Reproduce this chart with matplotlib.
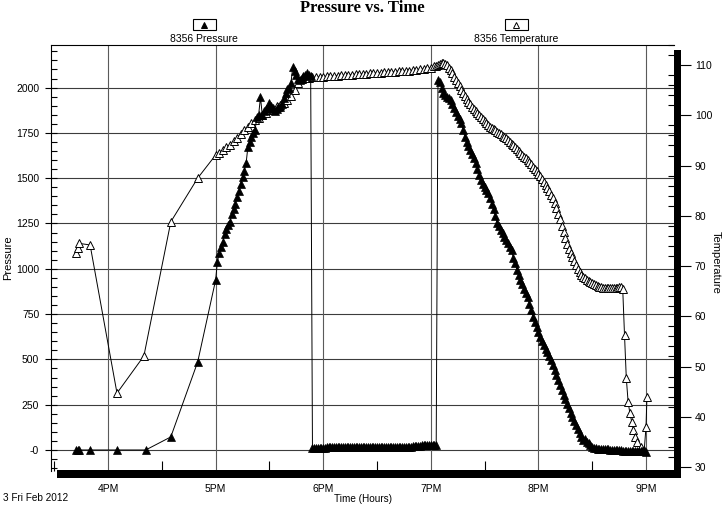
import matplotlib
matplotlib.use("Agg")
import matplotlib.pyplot as plt
from matplotlib.patches import Rectangle
from matplotlib.lines import Line2D
from matplotlib.ticker import MultipleLocator, FixedLocator

# ---------------- data ----------------
# pressure: (time, value) pairs, grouped by stretch of the record
p_early_time = ["15:42", "15:43", "15:44", "15:50", "16:05", "16:21", "16:35", "16:50", "17:00"]
p_early_val = [0, 0, 0, 0, 0, 0, 72, 486, 938]

p_ramp_time = ["17:01", "17:02", "17:03", "17:04", "17:05", "17:06", "17:07", "17:08", "17:09", "17:10",
               "17:11", "17:12", "17:13", "17:14", "17:15", "17:16", "17:17", "17:18", "17:19", "17:20",
               "17:21", "17:22", "17:23", "17:24", "17:25", "17:26", "17:27", "17:28", "17:29", "17:30",
               "17:31", "17:32", "17:33", "17:34", "17:35", "17:36", "17:37", "17:38", "17:39", "17:40",
               "17:41", "17:42", "17:43", "17:44", "17:45", "17:46", "17:47", "17:48", "17:49", "17:50",
               "17:51", "17:52", "17:53"]
p_ramp_val = [1040, 1085, 1120, 1150, 1190, 1220, 1240, 1260, 1300, 1330,
              1360, 1396, 1430, 1470, 1507, 1540, 1584, 1672, 1700, 1727,
              1750, 1766, 1838, 1850, 1948, 1850, 1870, 1880, 1890, 1915,
              1900, 1880, 1870, 1880, 1893, 1893, 1910, 1940, 1970, 1990,
              2000, 2025, 2114, 2090, 2070, 2050, 2042, 2055, 2065, 2072,
              2080, 2070, 2065]

p_low_time = ["17:54", "17:55", "17:56", "17:57", "17:58", "17:59", "18:00", "18:01", "18:02", "18:03",
              "18:04", "18:05", "18:06", "18:07", "18:08", "18:09", "18:10", "18:11", "18:12", "18:13",
              "18:14", "18:15", "18:16", "18:17", "18:18", "18:19", "18:20", "18:21", "18:22", "18:23",
              "18:24", "18:25", "18:26", "18:27", "18:28", "18:29", "18:30", "18:31", "18:32", "18:33",
              "18:34", "18:35", "18:36", "18:37", "18:38", "18:39", "18:40", "18:41", "18:42", "18:43",
              "18:44", "18:45", "18:46", "18:47", "18:48", "18:49", "18:50", "18:51", "18:52", "18:53",
              "18:54", "18:55", "18:56", "18:57", "18:58", "18:59", "19:00", "19:01", "19:02", "19:03"]
p_low_val = [12, 12, 13, 13, 13, 13, 13, 13, 14, 14,
             14, 14, 14, 14, 14, 14, 15, 15, 15, 15,
             15, 15, 15, 15, 15, 15, 16, 16, 16, 16,
             16, 16, 16, 16, 16, 16, 17, 17, 17, 17,
             17, 17, 17, 17, 18, 18, 18, 18, 18, 18,
             18, 18, 19, 19, 19, 19, 20, 22, 24, 24,
             24, 25, 25, 25, 25, 26, 26, 27, 27, 28]

p_fall_time = ["19:04", "19:05", "19:06", "19:07", "19:08", "19:09", "19:10", "19:11", "19:12", "19:13",
               "19:14", "19:15", "19:16", "19:17", "19:18", "19:19", "19:20", "19:21", "19:22", "19:23",
               "19:24", "19:25", "19:26", "19:27", "19:28", "19:29", "19:30", "19:31", "19:32", "19:33",
               "19:34", "19:35", "19:36", "19:37", "19:38", "19:39", "19:40", "19:41", "19:42", "19:43",
               "19:44", "19:45", "19:46", "19:47", "19:48", "19:49", "19:50", "19:51", "19:52", "19:53",
               "19:54", "19:55", "19:56", "19:57", "19:58", "19:59", "20:00", "20:01", "20:02", "20:03",
               "20:04", "20:05", "20:06", "20:07", "20:08", "20:09", "20:10", "20:11", "20:12", "20:13",
               "20:14", "20:15", "20:16", "20:17", "20:18", "20:19", "20:20", "20:21", "20:22", "20:23",
               "20:24", "20:25", "20:26", "20:27", "20:28", "20:29", "20:30", "20:31", "20:32", "20:33",
               "20:34", "20:35", "20:36", "20:37", "20:38", "20:39", "20:40", "20:41", "20:42", "20:43",
               "20:44", "20:45", "20:46", "20:47", "20:48", "20:49", "20:50", "20:51", "20:52", "20:53",
               "20:54", "20:55", "20:56", "20:57", "20:58", "20:59", "21:00"]
p_fall_val = [2040, 2030, 2000, 1970, 1960, 1950, 1940, 1932, 1910, 1890,
              1866, 1845, 1825, 1805, 1765, 1727, 1700, 1678, 1656, 1633,
              1610, 1584, 1550, 1520, 1490, 1470, 1450, 1434, 1418, 1390,
              1360, 1330, 1290, 1253, 1234, 1215, 1195, 1175, 1157, 1140,
              1122, 1104, 1060, 1030, 995, 965, 938, 914, 890, 867,
              844, 805, 770, 734, 707, 680, 652, 624, 602, 580,
              560, 540, 518, 497, 468, 440, 412, 385, 358, 331,
              305, 280, 255, 230, 204, 182, 160, 137, 115, 93,
              72, 55, 60, 45, 39, 25, 18, 11, 9, 8,
              6, 5, 5, 5, 4, 3, 2, 2, 1, 0,
              -1, -2, -2, -3, -3, -4, -4, -5, -5, -6,
              -6, -6, -7, -7, -8, -8, -10]

# temperature
t_early_time = ["15:42", "15:43", "15:44", "15:50", "16:05", "16:20", "16:35", "16:50", "17:00"]
t_early_val = [72.5, 73.5, 74.5, 74.2, 44.7, 52.1, 78.8, 87.5, 92.1]

t_rise_time = ["17:02", "17:04", "17:06", "17:08", "17:10", "17:12", "17:14", "17:16", "17:18", "17:20",
               "17:22", "17:24", "17:26", "17:28", "17:30", "17:32", "17:34", "17:36", "17:38", "17:40",
               "17:42", "17:44", "17:46", "17:48"]
t_rise_val = [92.6, 93.1, 93.6, 94.1, 94.8, 95.5, 96.3, 97.0, 97.7, 98.4,
              99.0, 99.5, 100.0, 100.5, 101.0, 101.4, 101.8, 102.1, 102.4, 103.0,
              103.8, 105.0, 106.4, 107.3]

t_flat_time = ["17:50", "17:52", "17:54", "17:56", "17:58", "18:00", "18:02", "18:04", "18:06", "18:08",
               "18:10", "18:12", "18:14", "18:16", "18:18", "18:20", "18:22", "18:24", "18:26", "18:28",
               "18:30", "18:32", "18:34", "18:36", "18:38", "18:40", "18:42", "18:44", "18:46", "18:48",
               "18:50", "18:52", "18:54", "18:56", "18:58", "19:00", "19:02"]
t_flat_val = [107.5, 107.5, 107.6, 107.6, 107.7, 107.7, 107.8, 107.8, 107.9, 107.9,
              108.0, 108.0, 108.1, 108.1, 108.2, 108.2, 108.3, 108.3, 108.4, 108.4,
              108.5, 108.5, 108.6, 108.6, 108.7, 108.7, 108.8, 108.8, 108.9, 108.9,
              109.0, 109.1, 109.2, 109.3, 109.4, 109.5, 109.8]

t_fall_time = ["19:03", "19:04", "19:05", "19:06", "19:07", "19:08", "19:09", "19:10", "19:11", "19:12",
               "19:13", "19:14", "19:15", "19:16", "19:17", "19:18", "19:19", "19:20", "19:21", "19:22",
               "19:23", "19:24", "19:25", "19:26", "19:27", "19:28", "19:29", "19:30", "19:31", "19:32",
               "19:33", "19:34", "19:35", "19:36", "19:37", "19:38", "19:39", "19:40", "19:41", "19:42",
               "19:43", "19:44", "19:45", "19:46", "19:47", "19:48", "19:49", "19:50", "19:51", "19:52",
               "19:53", "19:54", "19:55", "19:56", "19:57", "19:58", "19:59", "20:00", "20:01", "20:02",
               "20:03", "20:04", "20:05", "20:06", "20:07", "20:08", "20:09", "20:10", "20:11", "20:12",
               "20:13", "20:14", "20:15", "20:16", "20:17", "20:18", "20:19", "20:20", "20:21", "20:22",
               "20:23", "20:24", "20:25", "20:26", "20:27", "20:28", "20:29", "20:30", "20:31", "20:32",
               "20:33", "20:34", "20:35", "20:36", "20:37", "20:38", "20:39", "20:40", "20:41", "20:42",
               "20:43", "20:44", "20:45", "20:46", "20:47"]
t_fall_val = [109.9, 110.0, 110.2, 110.4, 110.4, 110.3, 110.0, 109.5, 109.0, 108.4,
              107.7, 107.0, 106.4, 105.8, 105.1, 104.5, 103.8, 103.2, 102.7, 102.2,
              101.7, 101.2, 100.8, 100.4, 100.0, 99.6, 99.2, 98.8, 98.4, 98.0,
              97.7, 97.5, 97.2, 97.0, 96.7, 96.5, 96.2, 95.9, 95.6, 95.4,
              95.0, 94.7, 94.3, 94.0, 93.6, 93.3, 92.9, 92.6, 92.2, 91.8,
              91.5, 91.1, 90.7, 90.3, 89.8, 89.4, 88.9, 88.4, 87.9, 87.4,
              86.8, 86.2, 85.6, 84.9, 84.2, 83.5, 82.5, 81.5, 80.4, 79.3,
              78.0, 76.8, 75.5, 74.3, 73.4, 72.5, 71.7, 71.0, 70.2, 69.4,
              68.8, 68.3, 67.9, 67.6, 67.3, 67.1, 66.8, 66.6, 66.4, 66.2,
              66.0, 65.9, 65.8, 65.7, 65.6, 65.6, 65.6, 65.6, 65.6, 65.6,
              65.6, 65.7, 65.8, 65.9, 65.5]

t_end_time = ["20:48", "20:49", "20:50", "20:51", "20:52", "20:53", "20:54", "20:55", "20:57", "20:59",
              "21:00", "21:00.5"]
t_end_val = [56.3, 47.7, 43.0, 40.7, 39.0, 37.4, 36.0, 35.0, 34.0, 33.4,
             38.0, 43.9]

hour_ticks = [16, 17, 18, 19, 20, 21]
hour_labels = ["4PM", "5PM", "6PM", "7PM", "8PM", "9PM"]
p_ticks = [0, 250, 500, 750, 1000, 1250, 1500, 1750, 2000]
p_labels = ["-0", "250", "500", "750", "1000", "1250", "1500", "1750", "2000"]
t_ticks = [30, 40, 50, 60, 70, 80, 90, 100, 110]


def to_hours(s):
    h, m = s.split(":")
    return int(h) + float(m) / 60.0


p_time = p_early_time + p_ramp_time + p_low_time + p_fall_time
p_val = p_early_val + p_ramp_val + p_low_val + p_fall_val
t_time = t_early_time + t_rise_time + t_flat_time + t_fall_time + t_end_time
t_val = t_early_val + t_rise_val + t_flat_val + t_fall_val + t_end_val
p_x = [to_hours(s) for s in p_time]
t_x = [to_hours(s) for s in t_time]

# ---------------- figure ----------------
W, H = 728, 529
fig = plt.figure(figsize=(W / 100, H / 100), dpi=100)
fig.patch.set_facecolor("white")
FONT = "Liberation Sans"

L, R, T, B = 51, 674, 45, 471
pos = [L / W, 1 - B / H, (R - L) / W, (B - T) / H]

ax = fig.add_axes(pos)          # grid + pressure axis
axT = ax.twinx()                # temperature
axP = fig.add_axes(pos, sharex=ax, sharey=ax)  # pressure data on top
axP.patch.set_visible(False)
axP.axis("off")
ax.set_zorder(0)
axT.set_zorder(1)
axP.set_zorder(2)

ax.set_xlim(15.47, 21.26)
ax.set_ylim(-116, 2235)
axT.set_ylim(29.2, 114.0)

# grid
for v in p_ticks:
    ax.axhline(v, color="#3c3c3c", lw=0.8, zorder=0.5)
for h in hour_ticks:
    ax.axvline(h, color="#5a5a5a", lw=0.8, zorder=0.5)

# spines
for a in (ax, axT):
    a.spines["right"].set_visible(False)
    a.spines["bottom"].set_visible(False)
    a.spines["left"].set_visible(a is ax)
    a.spines["top"].set_visible(a is ax)
ax.spines["left"].set_linewidth(0.8)
ax.spines["top"].set_linewidth(0.8)

# left ticks
ax.yaxis.set_major_locator(FixedLocator(p_ticks))
ax.set_yticklabels(p_labels)
ax.yaxis.set_minor_locator(MultipleLocator(50))
ax.tick_params(axis="y", which="major", direction="inout", length=9, width=0.8,
               labelsize=7.5, pad=4)
ax.tick_params(axis="y", which="minor", direction="in", length=4, width=0.8)
for lab in ax.get_yticklabels():
    lab.set_fontfamily(FONT)

# x ticks
ax.xaxis.set_major_locator(FixedLocator(hour_ticks))
ax.set_xticklabels(hour_labels)
ax.xaxis.set_minor_locator(FixedLocator([15.5, 16.5, 17.5, 18.5, 19.5, 20.5]))
ax.tick_params(axis="x", which="major", length=0, labelsize=7.5, pad=9.5)
ax.tick_params(axis="x", which="minor", direction="in", length=7, width=0.8)
for lab in ax.get_xticklabels():
    lab.set_fontfamily(FONT)

# right ticks
axT.yaxis.set_major_locator(FixedLocator(t_ticks))
axT.yaxis.set_minor_locator(MultipleLocator(2))
axT.tick_params(axis="y", which="major", direction="out", length=12, width=0.8,
                labelsize=7.5, pad=3)
axT.tick_params(axis="y", which="minor", direction="in", length=4, width=0.8)
for lab in axT.get_yticklabels():
    lab.set_fontfamily(FONT)

# data
axT.plot(t_x, t_val, color="black", lw=0.7, marker="^", ms=5.2,
         mfc="white", mec="black", mew=0.7, zorder=3, clip_on=False)
axP.plot(p_x, p_val, color="black", lw=0.7, marker="^", ms=5.2,
         mfc="black", mec="black", mew=0.5, zorder=3, clip_on=False)


# shadow bars (thick bottom/right frame)
def px(x, y):
    return (x / W, 1 - y / H)


def rect(x0, y0, x1, y1, **kw):
    fx0, fy1 = px(x0, y0)
    fx1, fy0 = px(x1, y1)
    fig.patches.append(Rectangle((fx0, fy0), fx1 - fx0, fy1 - fy0,
                                 transform=fig.transFigure, figure=fig, **kw))


rect(57, B - 1, 681, 478, facecolor="black", edgecolor="none", zorder=5)
rect(R, 50, 681, 478, facecolor="black", edgecolor="none", zorder=5)

# texts
fig.text(362 / W, 1 - 8 / H, "Pressure vs. Time", ha="center", va="center",
         fontsize=12, fontweight="bold", family="Liberation Serif")
fig.text(8 / W, 1 - 258 / H, "Pressure", rotation=90, ha="center", va="center",
         fontsize=8, family=FONT)
fig.text(716 / W, 1 - 262 / H, "Temperature", rotation=270, ha="center", va="center",
         fontsize=8, family=FONT)
fig.text(363 / W, 1 - 499 / H, "Time (Hours)", ha="center", va="center",
         fontsize=7.2, family=FONT)
fig.text(3 / W, 1 - 498 / H, "3 Fri Feb 2012", ha="left", va="center",
         fontsize=7.2, family=FONT)

# legend boxes
for cx, face, label in [(204, "black", "8356 Pressure"), (516, "white", "8356 Temperature")]:
    rect(cx - 11.5, 19, cx + 11.5, 30, facecolor="white", edgecolor="black",
         linewidth=0.8, zorder=5)
    fx, fy = px(cx, 24.5)
    fig.lines.append(Line2D([fx], [fy], transform=fig.transFigure, figure=fig,
                            marker="^", ms=5, mfc=face, mec="black", mew=0.7,
                            linestyle="none", zorder=6))
    fig.text(cx / W, 1 - 39 / H, label, ha="center", va="center",
             fontsize=7.5, family=FONT)

fig.savefig("out.png", dpi=100)
